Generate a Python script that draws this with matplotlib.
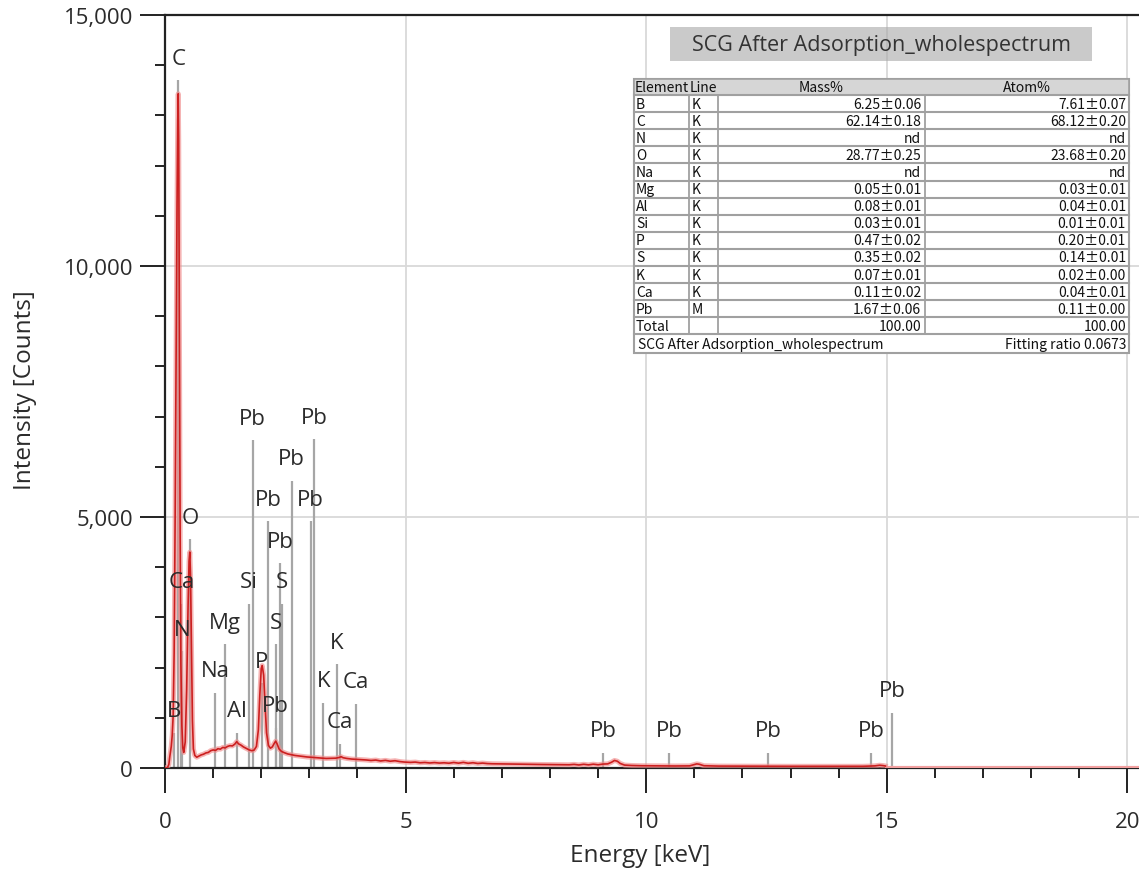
import matplotlib
matplotlib.use("Agg")
import matplotlib.pyplot as plt
from matplotlib.patches import Rectangle
from matplotlib.ticker import MultipleLocator, FuncFormatter

# ---- spectrum (energy in keV, intensity in counts) ----
energy_kev = [0.00, 0.05, 0.08, 0.10, 0.13, 0.15, 0.17, 0.19, 0.21, 0.23, 0.25, 0.265,
              0.275, 0.285, 0.30, 0.315, 0.33, 0.35, 0.37, 0.39, 0.42, 0.45, 0.48, 0.50,
              0.515, 0.53, 0.55, 0.57, 0.59, 0.62, 0.66, 0.70, 0.75, 0.80, 0.85, 0.90,
              0.95, 1.00, 1.05, 1.10, 1.15, 1.20, 1.25, 1.30, 1.35, 1.40, 1.45, 1.49,
              1.53, 1.58, 1.63, 1.70, 1.75, 1.80, 1.85, 1.90, 1.94, 1.97, 2.00, 2.02,
              2.05, 2.08, 2.11, 2.15, 2.19, 2.23, 2.27, 2.30, 2.33, 2.37, 2.42, 2.48,
              2.55, 2.62, 2.70, 2.78, 2.86, 2.95, 3.05, 3.15, 3.25, 3.35, 3.45, 3.55,
              3.62, 3.66, 3.70, 3.78, 3.88, 3.98, 4.08, 4.18, 4.28, 4.38, 4.48, 4.58,
              4.68, 4.78, 4.88, 4.98, 5.1, 5.2, 5.3, 5.4, 5.5, 5.6, 5.7, 5.8, 5.9, 6.0,
              6.1, 6.2, 6.3, 6.4, 6.5, 6.6, 6.7, 6.8, 7.0, 7.2, 7.4, 7.6, 7.8, 8.0, 8.2,
              8.4, 8.5, 8.6, 8.7, 8.8, 8.9, 9.0, 9.1, 9.2, 9.28, 9.34, 9.40, 9.46, 9.55,
              9.7, 9.9, 10.2, 10.6, 10.9, 11.0, 11.05, 11.1, 11.2, 11.5, 12.0, 12.5,
              13.0, 13.5, 14.0, 14.5, 14.75, 14.85, 14.92, 14.97]
counts = [0, 5, 70, 230, 430, 650, 1050, 2300, 4900, 8100, 11200, 12900,
          13430, 12500, 8600, 4600, 2100, 850, 400, 310, 520, 1550, 3250, 4120,
          4300, 3850, 2450, 950, 380, 250, 215, 235, 260, 275, 300, 310,
          345, 360, 350, 385, 375, 410, 400, 430, 445, 440, 475, 525,
          480, 455, 420, 385, 360, 345, 355, 430, 760, 1450, 1980, 2040,
          1850, 1250, 700, 450, 395, 420, 490, 535, 480, 380, 330, 305,
          280, 265, 250, 240, 232, 220, 212, 205, 198, 190, 192, 196,
          210, 225, 205, 190, 178, 172, 165, 160, 150, 158, 140, 152,
          135, 145, 128, 118, 112, 118, 104, 110, 100, 108, 98, 104, 95, 110,
          96, 112, 94, 105, 90, 98, 88, 84, 82, 78, 76, 72, 70, 68, 66,
          64, 72, 60, 74, 62, 76, 64, 78, 82, 115, 150, 135, 90, 58,
          50, 45, 42, 40, 42, 70, 82, 75, 45, 38, 36, 35,
          34, 34, 33, 34, 42, 55, 48, 40]
tail_kev = [14.97, 20.24]
tail_counts = [0, 0]

# ---- element marker lines ----
marker_labels = ["C", "B", "N", "Ca", "O", "Na", "Mg", "Al", "Si", "Pb", "P", "Pb",
                 "Pb", "S", "Pb", "S", "Pb", "Pb", "Pb", "K", "K", "Ca", "Ca",
                 "Pb", "Pb", "Pb", "Pb", "Pb"]
marker_kev = [0.277, 0.183, 0.36, 0.341, 0.525, 1.041, 1.253, 1.486, 1.739, 1.82, 2.013, 2.14,
              2.30, 2.31, 2.40, 2.44, 2.63, 3.03, 3.10, 3.29, 3.57, 3.64, 3.97,
              9.10, 10.48, 12.53, 14.68, 15.11]
marker_height = [13700, 700, 2330, 3270, 4560, 1500, 2470, 700, 3270, 6530, 1690, 4920,
                 800, 2470, 4080, 3270, 5720, 4920, 6550, 1300, 2070, 480, 1275,
                 300, 300, 300, 300, 1100]

# ---- quantification table ----
tbl_elements = ["B", "C", "N", "O", "Na", "Mg", "Al", "Si", "P", "S", "K", "Ca", "Pb", "Total"]
tbl_lines = ["K", "K", "K", "K", "K", "K", "K", "K", "K", "K", "K", "K", "M", ""]
tbl_mass = ["6.25\u00b10.06", "62.14\u00b10.18", "nd", "28.77\u00b10.25", "nd",
            "0.05\u00b10.01", "0.08\u00b10.01", "0.03\u00b10.01", "0.47\u00b10.02",
            "0.35\u00b10.02", "0.07\u00b10.01", "0.11\u00b10.02", "1.67\u00b10.06", "100.00"]
tbl_atom = ["7.61\u00b10.07", "68.12\u00b10.20", "nd", "23.68\u00b10.20", "nd",
            "0.03\u00b10.01", "0.04\u00b10.01", "0.01\u00b10.01", "0.20\u00b10.01",
            "0.14\u00b10.01", "0.02\u00b10.00", "0.04\u00b10.01", "0.11\u00b10.00", "100.00"]
spectrum_name = "SCG After Adsorption_wholespectrum"
fitting_ratio = "Fitting ratio 0.0673"

W, H = 1139, 870
plt.rcParams["font.family"] = ["Open Sans", "DejaVu Sans"]
fig = plt.figure(figsize=(W / 100, H / 100), dpi=100)

x_left, x_right, y_top, y_bottom = 165, 1139, 16, 769
ax = fig.add_axes([x_left / W, 1 - y_bottom / H, (x_right - x_left) / W, (y_bottom - y_top) / H])
ax.set_xlim(0, 20.24)
ax.set_ylim(0, 15000)

ax.grid(True, which="major", color="#d9d9d9", linewidth=1.3, zorder=0)
ax.set_axisbelow(True)

ax.vlines(marker_kev, 0, marker_height, colors="#a6a6a6", linewidth=1.6, zorder=2)
for lab, e, h in zip(marker_labels, marker_kev, marker_height):
    ax.annotate(lab, (e, h), xytext=(0, 22), textcoords="offset pixels",
                ha="center", va="center", fontsize=16, color="#2b2b2b", zorder=5)

ax.plot(tail_kev, tail_counts, color="#f2a0a0", linewidth=3.0, zorder=3, solid_capstyle="butt")
ax.plot(energy_kev, counts, color="#f08c8c", linewidth=3.6, alpha=0.65, zorder=3)
ax.plot(energy_kev, counts, color="#cc1f1f", linewidth=1.2, zorder=4)

ax.spines["right"].set_visible(False)
for s in ["left", "bottom", "top"]:
    ax.spines[s].set_color("#222222")
    ax.spines[s].set_linewidth(1.6)

ax.xaxis.set_major_locator(MultipleLocator(5))
ax.xaxis.set_minor_locator(MultipleLocator(1))
ax.yaxis.set_major_locator(MultipleLocator(5000))
ax.yaxis.set_minor_locator(MultipleLocator(1000))
ax.yaxis.set_major_formatter(FuncFormatter(lambda v, p: f"{int(v):,}"))
ax.tick_params(axis="both", which="major", length=18, width=1.4, color="#222222",
               labelsize=16, labelcolor="#2b2b2b")
ax.tick_params(axis="both", which="minor", length=7, width=1.4, color="#222222")
ax.tick_params(axis="x", which="major", pad=13)
ax.tick_params(axis="y", which="major", pad=5)

fig.text(640 / W, 1 - 856 / H, "Energy [keV]", ha="center", va="center", fontsize=17.5, color="#2b2b2b")
fig.text(25 / W, 1 - 390 / H, "Intensity [Counts]", ha="center", va="center", rotation=90,
         fontsize=17.5, color="#2b2b2b")

# ---- overlay: spectrum title and result table, in pixel coordinates ----
ov = fig.add_axes([0, 0, 1, 1], zorder=10)
ov.set_xlim(0, W)
ov.set_ylim(H, 0)
ov.axis("off")
ov.patch.set_alpha(0)

ov.add_patch(Rectangle((670, 28), 422, 34, facecolor="#a8a8a8", alpha=0.6, edgecolor="none"))
ov.text(881, 45.5, spectrum_name, ha="center", va="center", fontsize=15.5, color="#333333")

col_x = [634, 689, 718, 925, 1129]
row_h = 17.1
top = 80
n_rows = len(tbl_elements)
bottom_rows = top + 16 + n_rows * row_h
footer_bottom = bottom_rows + 19
ov.add_patch(Rectangle((col_x[0], top), col_x[-1] - col_x[0], footer_bottom - top,
                       facecolor="white", edgecolor="#a0a0a0", linewidth=1.5))
ov.add_patch(Rectangle((col_x[0], top), col_x[-1] - col_x[0], 16,
                       facecolor="#d6d6d6", edgecolor="#a0a0a0", linewidth=1.2))
tfont = dict(fontsize=10, color="#111111", family=["Noto Sans CJK JP", "DejaVu Sans"])
hy = top + 8
ov.text(col_x[0] + 1, hy, "Element", ha="left", va="center", **tfont)
ov.text(col_x[1] + 1, hy, "Line", ha="left", va="center", **tfont)
ov.text((col_x[2] + col_x[3]) / 2, hy, "Mass%", ha="center", va="center", **tfont)
ov.text((col_x[3] + col_x[4]) / 2, hy, "Atom%", ha="center", va="center", **tfont)

for i in range(n_rows + 1):
    y = top + 16 + i * row_h
    ov.plot([col_x[0], col_x[-1]], [y, y], color="#a0a0a0", linewidth=1.5)
for cx in col_x[1:4]:
    ov.plot([cx, cx], [top + 16, bottom_rows], color="#a0a0a0", linewidth=1.3)

for i, (el, ln, ms, at) in enumerate(zip(tbl_elements, tbl_lines, tbl_mass, tbl_atom)):
    yc = top + 16 + (i + 0.5) * row_h
    ov.text(col_x[0] + 2, yc, el, ha="left", va="center", **tfont)
    ov.text(col_x[1] + 3, yc, ln, ha="left", va="center", **tfont)
    ov.text(col_x[3] - 4, yc, ms, ha="right", va="center", **tfont)
    ov.text(col_x[4] - 3, yc, at, ha="right", va="center", **tfont)

fy = bottom_rows + 9.5
ov.text(col_x[0] + 4, fy, spectrum_name, ha="left", va="center", **tfont)
ov.text(col_x[4] - 3, fy, fitting_ratio, ha="right", va="center", **tfont)

fig.savefig("out.png", dpi=100, facecolor="white")
